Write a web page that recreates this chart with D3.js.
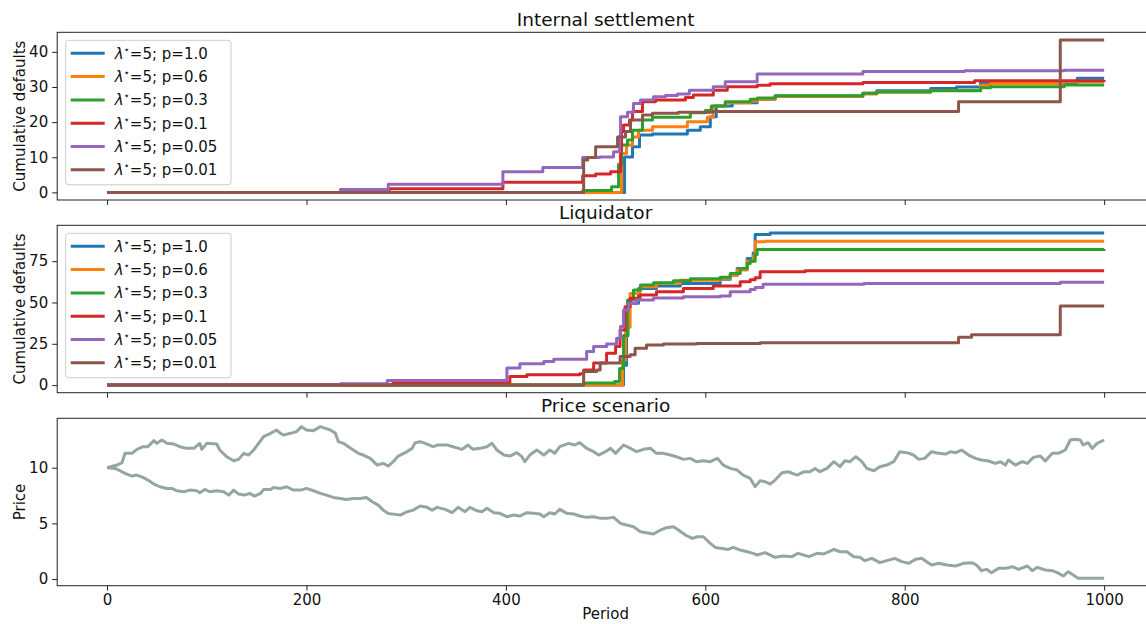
<!DOCTYPE html>
<html>
<head>
<meta charset="utf-8">
<script src="https://cdn.jsdelivr.net/npm/d3@7"></script>
<style>
  body { margin: 0; background: #fff; }
  svg { display: block; font-family: "DejaVu Sans", sans-serif; }
</style>
</head>
<body>
<svg id="chart" width="1146" height="624"></svg>
<script>
// ---- data ----
const periodTicks = [0, 200, 400, 600, 800, 1000];
const pLabels = ["1.0", "0.6", "0.3", "0.1", "0.05", "0.01"];

// Internal settlement: cumulative defaults, [period, value] step points
const settleP100 = [[0,0],[516,0],[519,10.1],[527,13.0],[534,16.3],[547,16.6],[582,17.7],[595,18.7],[605,21.5],[611,24.6],[627,25.5],[652,26.5],[670,27.4],[758,28.2],[772,28.9],[826,29.6],[852,30.0],[876,31.3],[973,32.5],[1000,32.5]];
const settleP060 = [[0,0],[513,0],[516,11.1],[521,13.5],[527,15.8],[533,17.7],[547,18.7],[582,20.1],[602,21.4],[608,24.6],[620,25.5],[645,26.0],[652,26.5],[670,27.4],[758,28.0],[772,28.6],[826,29.0],[876,30.5],[886,31.0],[960,31.5],[1000,31.5]];
const settleP030 = [[0,0],[477,0.5],[506,1.6],[513,8.0],[516,13.5],[522,14.9],[527,17.7],[537,20.6],[547,21.4],[585,22.7],[600,23.3],[606,24.6],[620,25.8],[645,26.5],[652,26.9],[670,27.5],[758,28.2],[772,28.6],[826,28.9],[876,29.8],[886,30.1],[960,30.6],[1000,30.6]];
const settleP010 = [[0,0],[283,1.0],[397,2.85],[477,4.7],[490,5.2],[505,5.9],[515,12.0],[516,17.3],[518,19.2],[524,20.6],[527,23.0],[537,25.8],[550,26.3],[580,27.0],[588,27.7],[608,29.1],[622,30.1],[652,30.5],[665,30.9],[758,31.3],[870,31.8],[1000,32.0]];
const settleP005 = [[0,0],[234,0.8],[282,2.3],[397,5.9],[437,7.1],[477,9.9],[494,10.1],[508,11.6],[514,16.0],[515,21.5],[522,22.8],[528,25.3],[535,26.3],[548,27.2],[560,27.6],[572,28.0],[584,29.1],[608,30.1],[620,31.5],[652,33.7],[758,34.4],[860,34.6],[960,34.8],[1000,34.8]];
const settleP001 = [[0,0],[477,0],[478,9.2],[482,9.9],[490,13.0],[512,15.8],[520,17.3],[525,20.6],[537,22.0],[547,22.5],[573,22.8],[607,23.0],[854,25.8],[956,43.4],[1000,43.4]];

// Liquidator: cumulative defaults
const liqP100 = [[0,0],[515,0],[518,12],[521,30],[522.5,49.5],[533,58.5],[551,59.9],[575,61.5],[615,64.0],[625,66.5],[632,70.6],[642,76.6],[648,80],[650,91.1],[665,92.1],[1000,92.1]];
const liqP060 = [[0,0],[514,0],[517,15],[520,35],[524.6,55.5],[534.6,59.5],[551,61.6],[575,63.5],[615,64.6],[625,66.5],[632,69.6],[642,75],[648,78],[650,86.7],[660,87.1],[1000,87.1]];
const liqP030 = [[0,0],[476,0],[478,1.2],[509,2.2],[514,10],[518,30],[522,51.5],[528,57.5],[535,60.5],[548,61.9],[568,63.1],[585,64.3],[615,65.2],[625,67.6],[635,70.6],[642,73.6],[645,75],[650,79],[652,82.1],[1000,82.3]];
const liqP010 = [[0,0],[287,1.6],[396,1.6],[404,5.2],[421,6.2],[474,6.8],[478,9.2],[488,13.3],[501,19.3],[510,23.3],[514.5,33.4],[519.5,47.4],[524.6,52.5],[534.6,54.5],[551,56.5],[578,58.5],[608,59.9],[635,62.5],[645,63.8],[650,65],[655,68.6],[700,69.2],[1000,69.2]];
const liqP005 = [[0,0],[234,0.8],[281,2.8],[396,2.8],[401,10.3],[414,12.9],[438,14.3],[448,15.7],[476,15.7],[481,20.3],[488,23.3],[501,24.9],[511,28.4],[515,35.4],[518,45.4],[523,49.5],[531,51.5],[548,52.7],[578,53.5],[615,53.9],[625,56.5],[645,57.9],[650,59],[658,61.0],[759,61.5],[956,62.2],[1000,62.2]];
const liqP001 = [[0,0],[476,0],[478,8.2],[491,9.2],[494.5,13.3],[511,13.3],[514.5,17.3],[524.6,18.3],[529.6,22.3],[541,24.3],[558,24.9],[591,25.2],[655,25.7],[854,29.0],[867,30.4],[956,47.9],[1000,47.9]];

// Price scenario: two price paths, [period, price]
const priceUp = [[0,10.0],[10,10.24],[15,10.45],[18,11.29],[25,11.29],[30,11.65],[36,11.89],[41,11.89],[47,12.43],[50,12.19],[55,12.49],[60,12.19],[67,12.13],[73,11.89],[80,11.74],[87,11.74],[93,12.19],[95,11.65],[100,12.19],[110,12.13],[113,11.59],[120,10.99],[127,10.63],[132,10.75],[137,11.29],[142,11.14],[147,11.59],[152,12.19],[157,12.79],[164,13.09],[170,13.39],[174,13.09],[177,12.94],[184,13.09],[190,13.24],[195,13.69],[200,13.39],[207,13.33],[214,13.69],[219,13.54],[224,13.39],[229,13.09],[232,12.34],[237,12.19],[242,11.89],[247,11.59],[252,11.29],[257,11.14],[264,10.84],[271,10.24],[277,10.39],[282,10.15],[287,10.54],[292,11.05],[299,11.35],[306,11.74],[309,12.25],[314,12.34],[319,12.19],[327,11.89],[332,12.04],[341,12.04],[347,11.89],[356,11.65],[362,12.04],[367,11.65],[374,11.74],[381,11.89],[386,12.19],[391,11.59],[398,11.14],[404,11.05],[411,11.35],[416,10.99],[419,10.54],[424,11.14],[431,11.59],[438,11.14],[444,11.59],[449,11.29],[454,11.89],[463,12.19],[469,12.04],[474,12.25],[481,11.74],[488,11.44],[493,11.14],[498,11.35],[505,11.74],[510,11.29],[518,12.04],[525,11.74],[531,11.44],[538,11.65],[545,11.74],[551,11.29],[558,11.29],[565,11.14],[571,10.99],[578,10.75],[585,10.84],[591,10.54],[598,10.63],[605,10.54],[612,10.84],[618,10.24],[625,9.94],[632,9.79],[638,9.34],[645,9.04],[650,8.30],[655,8.83],[660,8.74],[665,8.53],[670,8.89],[677,9.55],[683,9.64],[692,9.34],[699,9.64],[705,9.64],[710,9.94],[715,9.64],[722,9.94],[729,10.54],[735,10.09],[740,10.63],[745,10.54],[751,10.99],[757,10.54],[762,9.94],[769,9.73],[775,10.09],[782,10.24],[789,10.54],[795,11.44],[802,11.35],[809,11.14],[814,10.75],[820,10.84],[827,11.44],[834,11.29],[841,11.23],[846,11.44],[851,11.35],[857,11.59],[864,11.14],[871,10.84],[877,10.69],[884,10.60],[891,10.39],[896,10.54],[901,10.24],[904,10.69],[911,10.24],[918,10.54],[923,10.39],[929,10.93],[936,11.05],[941,10.60],[948,11.29],[954,11.29],[961,11.59],[966,12.49],[971,12.55],[976,12.49],[979,12.04],[984,12.25],[988,11.74],[993,12.19],[1000,12.49]];
const priceDown = [[0,10.0],[8,9.94],[13,9.73],[18,9.49],[25,9.25],[30,9.34],[36,9.13],[41,8.89],[47,8.53],[53,8.29],[60,8.14],[65,8.14],[70,7.93],[77,7.84],[83,7.99],[90,7.93],[93,7.75],[98,8.05],[103,7.84],[110,7.93],[117,7.84],[122,7.54],[127,7.99],[132,7.63],[138,7.54],[143,7.69],[148,7.45],[154,7.69],[157,8.05],[164,8.05],[167,8.23],[174,8.14],[180,8.29],[187,7.99],[194,7.99],[200,8.14],[207,7.93],[214,7.69],[220,7.54],[227,7.33],[234,7.24],[240,7.15],[247,7.24],[254,7.24],[260,7.33],[266,6.94],[272,6.64],[277,6.19],[282,5.89],[287,5.83],[294,5.75],[301,6.05],[307,6.19],[314,6.56],[321,6.44],[326,6.19],[331,6.44],[339,6.26],[346,5.96],[352,6.44],[359,6.05],[364,6.44],[371,6.13],[376,6.05],[381,6.35],[388,5.96],[394,5.90],[401,5.60],[408,5.75],[414,5.66],[421,5.96],[428,5.90],[434,5.84],[438,5.60],[444,5.96],[449,5.84],[454,6.26],[461,5.90],[468,5.84],[474,5.66],[481,5.54],[488,5.60],[495,5.45],[501,5.45],[508,5.54],[515,5.00],[521,4.85],[528,4.70],[535,4.25],[541,4.16],[548,4.04],[555,4.40],[561,4.61],[568,4.70],[573,4.40],[580,3.95],[587,3.65],[592,3.80],[598,3.80],[605,3.20],[610,2.84],[617,2.75],[623,2.66],[628,2.84],[635,2.60],[642,2.45],[648,2.30],[652,2.16],[660,2.37],[670,1.95],[678,2.07],[687,2.01],[693,2.31],[704,2.01],[712,2.31],[719,2.25],[729,2.66],[735,2.45],[742,2.45],[749,2.01],[755,1.95],[760,1.65],[767,1.86],[775,1.47],[782,1.65],[790,1.86],[797,1.56],[804,1.41],[811,1.77],[817,1.86],[822,1.56],[827,1.26],[834,1.41],[842,1.26],[851,1.17],[859,1.41],[867,1.47],[872,1.26],[877,0.75],[882,0.87],[887,0.57],[894,0.96],[901,0.96],[908,1.11],[914,0.87],[923,1.17],[928,0.75],[933,1.05],[941,0.81],[948,0.75],[953,0.57],[959,0.27],[964,0.66],[969,0.36],[974,0.06],[1000,0.06]];

// ---- layout ----
const colors = ["#1f77b4", "#ff7f0e", "#2ca02c", "#d62728", "#9467bd", "#8c564b"];
const PRICE_COLOR = "#95a5a6";
const FONT = 15;
const LINE_W = 3;

const svg = d3.select("#chart");

const xScale = d3.scaleLinear().domain([-50, 1050]).range([57.2, 1154]);

const panels = [
    {title: "Internal settlement", ylabel: "Cumulative defaults", top: 32.3, bottom: 200,
        yDomain: [-2.17, 45.57], yTicks: [0, 10, 20, 30, 40],
        series: [settleP100, settleP060, settleP030, settleP010, settleP005, settleP001]},
    {title: "Liquidator", ylabel: "Cumulative defaults", top: 225.3, bottom: 392.7,
        yDomain: [-4.6, 96.7], yTicks: [0, 25, 50, 75],
        series: [liqP100, liqP060, liqP030, liqP010, liqP005, liqP001]},
    {title: "Price scenario", ylabel: "Price", top: 418.3, bottom: 585.7,
        yDomain: [-0.6, 14.44], yTicks: [0, 5, 10],
        prices: [priceUp, priceDown]}
];

panels.forEach(function (p, i) {
    drawPanel(p, i === panels.length - 1);
});

function drawPanel(p, lastPanel) {
    const yScale = d3.scaleLinear().domain(p.yDomain).range([p.bottom, p.top]);
    const left = xScale.range()[0];
    const right = xScale.range()[1];
    const g = svg.append("g");

    const clipId = "clip" + Math.round(p.top);
    g.append("clipPath").attr("id", clipId)
        .append("rect")
        .attr("x", left).attr("y", p.top)
        .attr("width", right - left).attr("height", p.bottom - p.top);

    const plot = g.append("g").attr("clip-path", `url(#${clipId})`);

    if (p.series) {
        const line = d3.line()
            .x(d => xScale(d[0]))
            .y(d => yScale(d[1]))
            .curve(d3.curveStepAfter);
        p.series.forEach(function (s, k) {
            plot.append("path")
                .datum(s)
                .attr("d", line)
                .style("fill", "none")
                .style("stroke", colors[k])
                .style("stroke-width", LINE_W)
                .style("stroke-linejoin", "round");
        });
    }

    if (p.prices) {
        const line = d3.line()
            .x(d => xScale(d[0]))
            .y(d => yScale(d[1]));
        p.prices.forEach(function (s) {
            plot.append("path")
                .datum(s)
                .attr("d", line)
                .style("fill", "none")
                .style("stroke", PRICE_COLOR)
                .style("stroke-width", LINE_W)
                .style("stroke-linejoin", "round");
        });
    }

    // frame
    g.append("rect")
        .attr("x", left).attr("y", p.top)
        .attr("width", right - left).attr("height", p.bottom - p.top)
        .style("fill", "none")
        .style("stroke", "#222")
        .style("stroke-width", 1);

    // X axis
    const xAxis = g.append("g")
        .attr("transform", `translate(0, ${p.bottom})`)
        .call(d3.axisBottom(xScale).tickValues(periodTicks).tickSize(5).tickPadding(4)
            .tickFormat(lastPanel ? d3.format("d") : ""));
    xAxis.select(".domain").remove();
    xAxis.selectAll("line").style("stroke", "#222");
    xAxis.selectAll("text")
        .style("font-family", "DejaVu Sans")
        .style("font-size", FONT + "px")
        .style("fill", "#111");

    // Y axis
    const yAxis = g.append("g")
        .attr("transform", `translate(${left}, 0)`)
        .call(d3.axisLeft(yScale).tickValues(p.yTicks).tickSize(5).tickPadding(4));
    yAxis.select(".domain").remove();
    yAxis.selectAll("line").style("stroke", "#222");
    yAxis.selectAll("text")
        .style("font-family", "DejaVu Sans")
        .style("font-size", FONT + "px")
        .style("fill", "#111");

    // Y label
    g.append("text")
        .attr("transform", `translate(25, ${(p.top + p.bottom) / 2}) rotate(-90)`)
        .attr("text-anchor", "middle")
        .style("font-size", FONT + "px")
        .style("fill", "#111")
        .text(p.ylabel);

    // title
    g.append("text")
        .attr("x", (left + right) / 2)
        .attr("y", p.top - 6)
        .attr("text-anchor", "middle")
        .style("font-size", "18.5px")
        .style("fill", "#111")
        .text(p.title);

    if (p.series) drawLegend(g, p.top);

    if (lastPanel) {
        g.append("text")
            .attr("x", (left + right) / 2)
            .attr("y", 619)
            .attr("text-anchor", "middle")
            .style("font-size", FONT + "px")
            .style("fill", "#111")
            .text("Period");
    }
}

function drawLegend(g, top) {
    const box = g.append("g").attr("transform", `translate(65.7, ${top + 8})`);
    box.append("rect")
        .attr("width", 165.3).attr("height", 144.5)
        .attr("rx", 3)
        .style("fill", "#fff").style("fill-opacity", 0.8)
        .style("stroke", "#ccc");

    const item = box.selectAll(".legend")
        .data(pLabels)
        .enter()
        .append("g")
        .attr("class", "legend")
        .attr("transform", (d, i) => `translate(0, ${13 + i * 23.3})`);

    item.append("line")
        .attr("x1", 5).attr("x2", 39)
        .style("stroke", (d, i) => colors[i])
        .style("stroke-width", LINE_W);

    const t = item.append("text")
        .attr("x", 49).attr("y", 5.5)
        .style("font-size", FONT + "px")
        .style("fill", "#111");
    t.append("tspan").style("font-style", "italic").text("λ");
    t.append("tspan").attr("dy", -6).style("font-size", "10px").text("⋆");
    t.append("tspan").attr("dy", 6).text(d => "=5; p=" + d);
}
</script>
</body>
</html>
